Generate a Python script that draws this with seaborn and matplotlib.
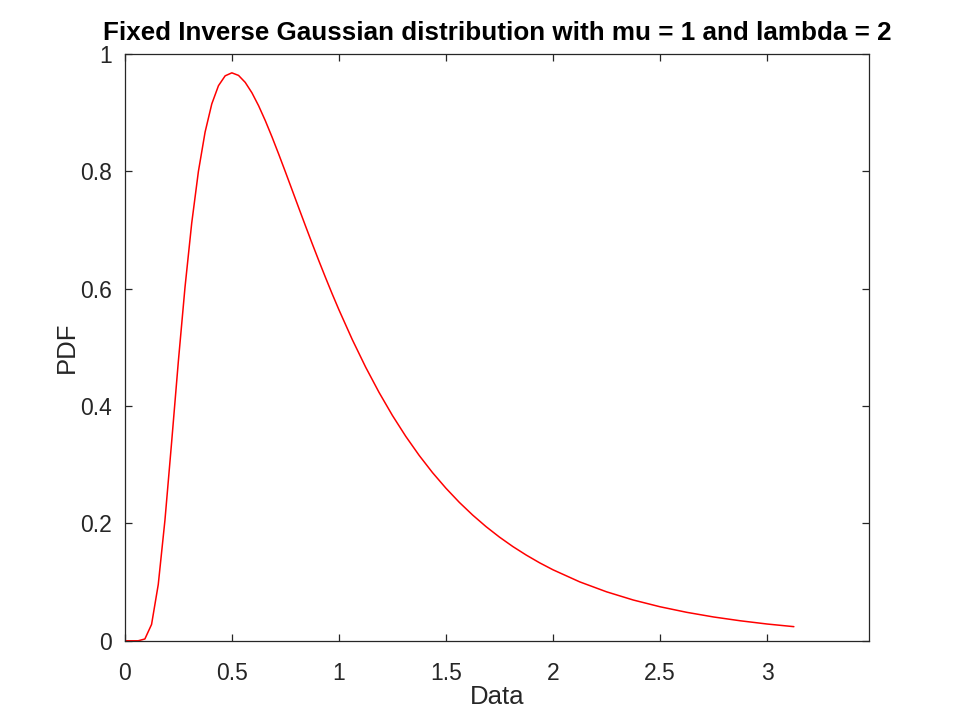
import matplotlib
matplotlib.use('Agg')
import matplotlib.pyplot as plt
import seaborn as sns
import pandas as pd

# sample points (denser near the peak)
data_x = [0.0, 0.03125, 0.0625, 0.09375, 0.125, 0.15625, 0.1875, 0.21875,
          0.25, 0.28125, 0.3125, 0.34375, 0.375, 0.40625, 0.4375, 0.46875,
          0.5, 0.53125, 0.5625, 0.59375, 0.625, 0.65625, 0.6875, 0.71875,
          0.75, 0.78125, 0.8125, 0.84375, 0.875, 0.90625, 0.9375, 0.96875,
          1.0, 1.0625, 1.125, 1.1875, 1.25, 1.3125, 1.375, 1.4375,
          1.5, 1.5625, 1.625, 1.6875, 1.75, 1.8125, 1.875, 1.9375,
          2.0, 2.125, 2.25, 2.375, 2.5, 2.625, 2.75, 2.875, 3.0, 3.125]
pdf_y = [0.0, 0.0, 0.00003, 0.00308, 0.0279, 0.0959, 0.2055, 0.3386,
         0.4757, 0.6027, 0.7117, 0.7998, 0.8669, 0.9149, 0.9460, 0.9628,
         0.9679, 0.9635, 0.9516, 0.9339, 0.9118, 0.8864, 0.8587, 0.8294,
         0.7992, 0.7685, 0.7377, 0.7072, 0.6771, 0.6477, 0.6190, 0.5911,
         0.5642, 0.5133, 0.4663, 0.4233, 0.3840, 0.3483, 0.3159, 0.2865,
         0.2600, 0.2359, 0.2142, 0.1945, 0.1767, 0.1606, 0.1461, 0.1329,
         0.1210, 0.1004, 0.0835, 0.0695, 0.0580, 0.0485, 0.0406, 0.0341,
         0.0286, 0.0241]

x_ticks = [0, 0.5, 1, 1.5, 2, 2.5, 3]
x_tick_labels = ['0', '0.5', '1', '1.5', '2', '2.5', '3']
y_ticks = [0, 0.2, 0.4, 0.6, 0.8, 1]
y_tick_labels = ['0', '0.2', '0.4', '0.6', '0.8', '1']

df = pd.DataFrame({'Data': data_x, 'PDF': pdf_y})

sns.set_style('ticks')
plt.rcParams['font.family'] = ['Liberation Sans', 'DejaVu Sans']

fig = plt.figure(figsize=(9.6, 7.2), dpi=100)
ax = fig.add_axes([0.13, 0.11, 0.775, 0.815])

sns.lineplot(data=df, x='Data', y='PDF', color='red', linewidth=1.1, ax=ax)

ax.set_xlim(0, 3.475)
ax.set_ylim(0, 1)
ax.set_xticks(x_ticks)
ax.set_xticklabels(x_tick_labels)
ax.set_yticks(y_ticks)
ax.set_yticklabels(y_tick_labels)

for side in ['top', 'right', 'bottom', 'left']:
    ax.spines[side].set_visible(True)
    ax.spines[side].set_color('#262626')
    ax.spines[side].set_linewidth(0.9)

ax.tick_params(direction='in', length=5, width=0.9, colors='#262626',
               labelsize=16.5, top=True, right=True, pad=9)
ax.tick_params(axis='x', pad=15)

ax.set_xlabel('Data', fontsize=18.5, color='#262626', labelpad=0)
ax.set_ylabel('PDF', fontsize=18.5, color='#262626', labelpad=1)
# title sits just above the top "1" tick label, as in the reference
ax.set_title('Fixed Inverse Gaussian distribution with mu = 1 and lambda = 2',
             fontsize=18.7, fontweight='bold', color='black', pad=10)

fig.savefig('out.png', dpi=100)
plt.close(fig)
